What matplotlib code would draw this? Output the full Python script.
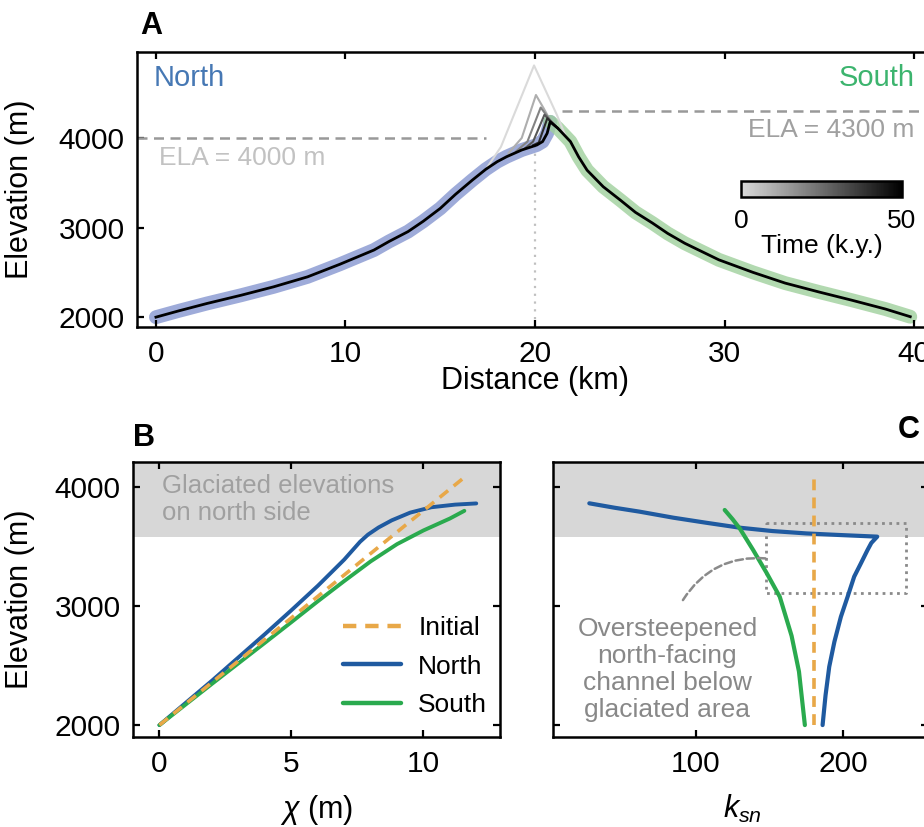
import numpy as np
import matplotlib
matplotlib.use('Agg')
import matplotlib.pyplot as plt
from matplotlib.colors import LinearSegmentedColormap, Normalize
from matplotlib.cm import ScalarMappable

plt.rcParams['font.family'] = ['Liberation Sans', 'DejaVu Sans']
plt.rcParams['mathtext.fontset'] = 'custom'
plt.rcParams['mathtext.it'] = 'Liberation Sans:italic'
plt.rcParams['mathtext.rm'] = 'Liberation Sans'

# ---------------- Panel A data: long profile (distance km, elevation m) ----------------
north_x = [0, 1.2, 2.7, 4.5, 6.2, 8.0, 9.7, 11.5, 12.3, 13.3, 14.1, 15.0, 15.8, 16.7, 17.4,
           18.0, 18.5, 19.3, 20.1, 20.4, 20.64, 20.8]
north_z = [2000, 2070, 2153, 2245, 2338, 2450, 2590, 2749, 2845, 2955, 3070, 3214, 3370, 3531, 3650,
           3735, 3791, 3866, 3922, 3960, 4052, 4180]
south_x = [20.8, 21.2, 21.87, 22.3, 22.75, 23.6, 24.5, 25.3, 26.2, 27.0, 27.9, 29.7, 31.5, 33.2,
           35.0, 36.7, 38.5, 39.8]
south_z = [4180, 4110, 3960, 3790, 3640, 3456, 3307, 3170, 3050, 2935, 2825, 2640, 2500, 2380,
           2280, 2190, 2090, 2005]

# summit profiles through time (k.y.)
times = [0, 10, 20, 30, 40]
summit_x = [
    [17.5, 18.2, 19.95, 21.15, 21.6],
    [18.6, 19.3, 20.05, 20.46, 20.9, 21.3],
    [19.0, 19.6, 20.3, 20.8, 21.2],
    [19.5, 19.9, 20.5, 20.9, 21.2],
    [19.9, 20.2, 20.65, 20.95, 21.2],
]
summit_z = [
    [3680, 3900, 4810, 4260, 4030],
    [3830, 4000, 4480, 4330, 4160, 4090],
    [3850, 3960, 4340, 4200, 4110],
    [3890, 3960, 4260, 4170, 4110],
    [3920, 3950, 4220, 4160, 4110],
]
ela_north = 4000
ela_south = 4300

# ---------------- Panel B data: chi plot ----------------
chi_init = [0, 11.6]
zc_init = [2000, 4090]
chi_north = [0, 2, 4, 5, 6, 7, 7.6, 7.9, 8.3, 8.8, 9.5, 10.3, 11.2, 12.0]
zc_north = [2000, 2375, 2765, 2965, 3170, 3390, 3540, 3600, 3660, 3720, 3785, 3830, 3852, 3862]
chi_south = [0, 2, 4, 5, 6, 7, 8, 9, 10, 11, 11.55]
zc_south = [2000, 2348, 2692, 2865, 3040, 3210, 3375, 3520, 3635, 3735, 3800]
glacier_floor = 3580

# ---------------- Panel C data: ksn ----------------
ksn_init = [180.5, 180.5]
zk_init = [2000, 4115]
ksn_north = [28, 45, 62, 85, 107, 130, 152, 175, 197, 223, 219, 216.4, 212, 207.4, 203,
             198.4, 194, 190.5, 188, 186]
zk_north = [3863, 3826, 3793, 3742, 3700, 3658, 3630, 3610, 3597, 3583, 3530, 3470, 3360,
            3247, 3080, 2910, 2700, 2490, 2250, 2000]
ksn_south = [119.7, 125, 130, 139, 148, 157, 165, 170, 174]
zk_south = [3807, 3730, 3650, 3470, 3280, 3078, 2750, 2450, 2000]

# ---------------- styling ----------------
W, H = 924, 827
fig = plt.figure(figsize=(W / 100, H / 100), dpi=100)


def box(l, t, r, b):
    return [l / W, 1 - b / H, (r - l) / W, (b - t) / H]


TFS = 21.5
LFS = 22
SPW = 1.8
BLUE_TXT = '#4678b4'
GREEN_TXT = '#3cb46e'
BLUE = '#1f5aa0'
GREEN = '#2aaa4e'
ORANGE = '#e8a848'
GLAC = '#d7d7d7'


def style(ax):
    for s in ax.spines.values():
        s.set_linewidth(SPW)
    ax.tick_params(direction='in', length=5, width=1.6, top=True, right=True,
                   labelsize=TFS, pad=9)


axA = fig.add_axes(box(137, 52, 933, 327))
axB = fig.add_axes(box(133, 462, 500, 737))
axC = fig.add_axes(box(553, 462, 928, 737))
for ax in (axA, axB, axC):
    style(ax)

# ---------------- Panel A ----------------
cmap = LinearSegmentedColormap.from_list('time', ['#dadada', '#000000'])
norm = Normalize(0, 50)

axA.plot(north_x, north_z, color='#8696d0', lw=10, alpha=0.8, solid_capstyle='round',
         solid_joinstyle='round', zorder=1)
axA.plot(south_x, south_z, color='#9fd09c', lw=10, alpha=0.8, solid_capstyle='round',
         solid_joinstyle='round', zorder=1)
axA.plot([20, 20], [1890, 3900], color='#c0c0c0', lw=1.6, ls=(0, (1, 2.5)), zorder=0.5)
for t, xs, zs in zip(times, summit_x, summit_z):
    axA.plot(xs, zs, color=cmap(norm(t)), lw=1.5, zorder=2)
axA.plot(north_x + south_x[1:], north_z + south_z[1:], color='black', lw=2, zorder=3,
         solid_joinstyle='round')

axA.plot([-1, 17.4], [ela_north, ela_north], color='#999999', lw=1.8, ls=(0, (4, 2.6)))
axA.plot([21.4, 41], [ela_south, ela_south], color='#999999', lw=1.8, ls=(0, (4, 2.6)))
axA.text(0.16, 3775, 'ELA = 4000 m', color='#c2c2c2', fontsize=19, ha='left', va='center')
axA.text(40.0, 4085, 'ELA = 4300 m', color='#a0a0a0', fontsize=19, ha='right', va='center')
axA.text(-0.1, 4665, 'North', color=BLUE_TXT, fontsize=21, ha='left', va='center')
axA.text(40.05, 4665, 'South', color=GREEN_TXT, fontsize=21, ha='right', va='center')

axA.set_xlim(-1, 41)
axA.set_ylim(1890, 4960)
axA.set_xticks([0, 10, 20, 30, 40])
axA.set_yticks([2000, 3000, 4000])
axA.set_xlabel('Distance (km)', fontsize=LFS)
axA.set_ylabel('Elevation (m)', fontsize=LFS)
axA.yaxis.set_label_coords(-0.128, 0.5)
axA.xaxis.set_label_coords(0.5, -0.14)

cax = fig.add_axes(box(741, 181, 902, 197))
cb = fig.colorbar(ScalarMappable(norm=norm, cmap=cmap), cax=cax, orientation='horizontal',
                  ticks=[0, 50])
cb.outline.set_linewidth(1.8)
cb.ax.tick_params(length=0, labelsize=19, pad=9)
cb.set_label('Time (k.y.)', fontsize=19, labelpad=0)

# ---------------- Panel B ----------------
axB.axhspan(glacier_floor, 5000, color=GLAC, lw=0, zorder=0)
axB.plot(chi_init, zc_init, color=ORANGE, lw=2.6, ls=(0, (3, 2)), label='Initial', zorder=3)
axB.plot(chi_north, zc_north, color=BLUE, lw=2.8, label='North', zorder=2,
         solid_capstyle='round')
axB.plot(chi_south, zc_south, color=GREEN, lw=2.8, label='South', zorder=2,
         solid_capstyle='round')
axB.text(0.08, 3895, 'Glaciated elevations\non north side', color='#a0a0a0', fontsize=18.5,
         ha='left', va='center', linespacing=1.12)
axB.set_xlim(-1, 12.9)
axB.set_ylim(1900, 4210)
axB.set_xticks([0, 5, 10])
axB.set_yticks([2000, 3000, 4000])
axB.set_xlabel(r'$\chi$ (m)', fontsize=LFS)
axB.set_ylabel('Elevation (m)', fontsize=LFS)
axB.yaxis.set_label_coords(-0.267, 0.5)
leg = axB.legend(loc='upper left', bbox_to_anchor=(0.572, 0.44), frameon=False, fontsize=19,
                 handlelength=2.2, handletextpad=0.65, labelspacing=0.55, borderpad=0,
                 borderaxespad=0)
for h in leg.get_lines():
    h.set_linewidth(3.2)

# ---------------- Panel C ----------------
axC.axhspan(glacier_floor, 5000, color=GLAC, lw=0, zorder=0)
axC.plot(ksn_init, zk_init, color=ORANGE, lw=2.6, ls=(0, (3, 2)), zorder=3)
axC.plot(ksn_north, zk_north, color=BLUE, lw=3, zorder=2, solid_capstyle='round')
axC.plot(ksn_south, zk_south, color=GREEN, lw=3, zorder=2, solid_capstyle='round')
axC.plot([147.5, 242.6, 242.6, 147.5, 147.5], [3700, 3700, 3112, 3112, 3700],
         color='#8a8a8a', lw=2, ls=(0, (1, 1.6)), zorder=1)
axC.annotate('', xy=(147.9, 3400), xytext=(91.4, 3050),
             arrowprops=dict(arrowstyle='-', ls=(0, (3, 1.5)), color='#8a8a8a', lw=1.8,
                             connectionstyle='arc3,rad=-0.3', shrinkA=0, shrinkB=0))
axC.text(80.9, 2468, 'Oversteepened\nnorth-facing\nchannel below\nglaciated area',
         color='#888888', fontsize=19, ha='center', va='center', linespacing=1.17)
axC.set_xlim(3.4, 257.4)
axC.set_ylim(1900, 4210)
axC.set_xticks([100, 200])
axC.set_yticks([2000, 3000, 4000])
axC.tick_params(labelleft=False)
axC.set_xlabel(r'$k_{sn}$', fontsize=LFS)

axB.xaxis.set_label_coords(0.5, -0.205)
axC.xaxis.set_label_coords((742 - 553) / 375, -0.205)

# panel letters
fig.text(140 / W, 1 - 26 / H, 'A', fontsize=22, fontweight='bold', ha='left', va='center')
fig.text(133 / W, 1 - 438 / H, 'B', fontsize=22, fontweight='bold', ha='left', va='center')
fig.text(898 / W, 1 - 430 / H, 'C', fontsize=22, fontweight='bold', ha='left', va='center')

fig.savefig('out.png', dpi=100)
